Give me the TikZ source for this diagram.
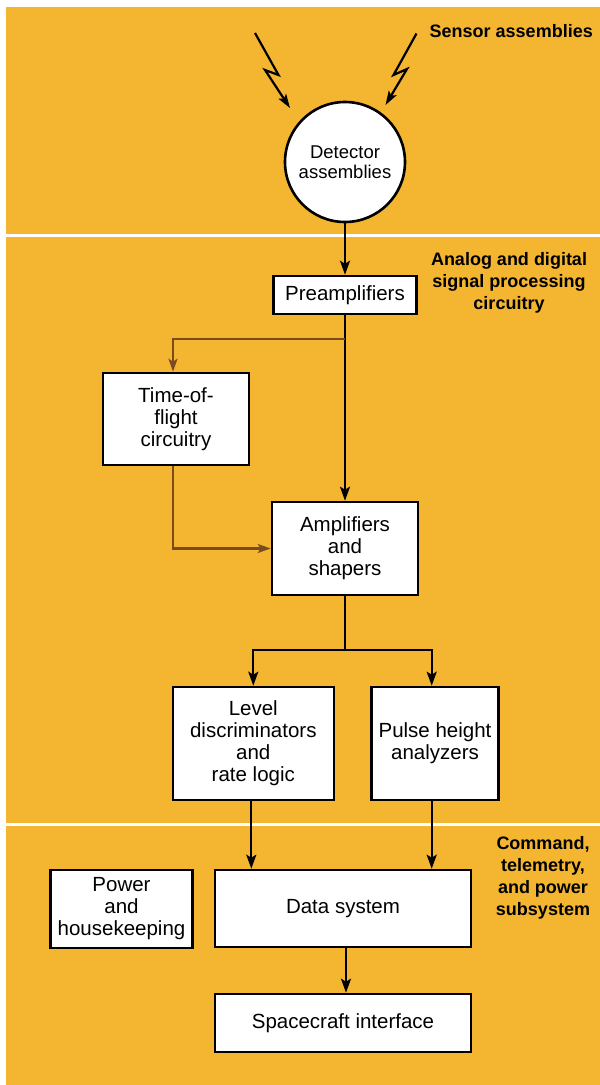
\documentclass[tikz,border=0pt]{standalone}
\usepackage{fontspec}
\setmainfont{Liberation Sans}
\usetikzlibrary{arrows.meta}
\definecolor{bgorange}{HTML}{F4B530}
\definecolor{tofbrown}{HTML}{7A4B22}
\begin{document}
\begin{tikzpicture}[x=1pt,y=-1pt,
  box/.style={draw=black,line width=2.6pt,fill=white,inner sep=0pt,align=center,
    font=\fontsize{20.5}{22}\selectfont},
  disc/.style={circle,draw=black,line width=2.6pt,fill=white,inner sep=0pt,
    minimum size=120pt,align=center,font=\fontsize{18.5}{20}\selectfont},
  lbl/.style={inner sep=0pt,align=center,font=\fontsize{18}{22}\selectfont\bfseries},
  arr/.style={draw=black,line width=2.2pt,-{Stealth[length=14pt,width=10pt,inset=3pt]}},
  link/.style={draw=black,line width=2.2pt},
  tofarr/.style={draw=tofbrown,line width=2.2pt,-{Stealth[length=13pt,width=9pt,inset=3pt]}},
  bolt/.style={draw=black,line width=2.2pt,line join=miter,-{Stealth[length=14pt,width=9pt,inset=3pt]}}]
\useasboundingbox (0,0) rectangle (600,1085);
% background
\fill[white] (0,0) rectangle (600,1085);
\fill[bgorange] (6,7) rectangle (600,1085);
\fill[white] (6,234.3) rectangle (600,237.3);
\fill[white] (6,822.5) rectangle (600,825.5);

% nodes
\node[disc] (det) at (345,162) {Detector\\assemblies};
\node[box,minimum width=143pt,minimum height=38pt] (pre) at (345,295) {Preamplifiers};
\node[box,minimum width=146pt,minimum height=92pt] (tof) at (176,419) {Time-of-\\flight\\circuitry};
\node[box,minimum width=146pt,minimum height=93pt] (amp) at (345,548.5) {Amplifiers\\and\\shapers};
\node[box,minimum width=161pt,minimum height=113pt] (lvl) at (253.3,743.5) {Level\\discriminators\\and\\rate logic};
\node[box,minimum width=126.6pt,minimum height=113pt] (pha) at (435,743.5) {Pulse height\\analyzers};
\node[box,minimum width=142pt,minimum height=78pt] (pwr) at (121.5,909) {Power\\and\\housekeeping};
\node[box,minimum width=256pt,minimum height=77pt] (dat) at (343,908.5) {Data system};
\node[box,minimum width=256pt,minimum height=58pt] (sci) at (343,1023) {Spacecraft interface};

% labels
\node[lbl,anchor=east] (lsens) at (593,31) {Sensor assemblies};
\node[lbl] (lanal) at (509,283) {Analog and digital\\signal processing\\circuitry};
\node[lbl] (lcmd) at (543,877.5) {Command,\\telemetry,\\and power\\subsystem};

% lightning bolts
\coordinate (b1s) at (255,33);
\coordinate (b1e) at (290,108);
\coordinate (b2s) at (416.5,33.5);
\coordinate (b2e) at (385.5,105);
\draw[bolt] (b1s) -- (278.5,75) -- (265,70) -- (b1e);
\draw[bolt] (b2s) -- (393.5,75) -- (407,69) -- (b2e);

% connectors
\coordinate (tap) at (345,339);
\coordinate (split) at (345,650);
\draw[arr] (det.south) -- (pre.north);
\draw[arr] (pre.south) -- (amp.north);
\draw[tofarr] (tap) -| ([xshift=-3pt]tof.north);
\draw[tofarr] ([xshift=-3pt]tof.south) |- (amp.west);
\draw[link] (amp.south) -- (split);
\draw[arr] (split) -| (lvl.north);
\draw[arr] (split) -| ([xshift=-3.3pt]pha.north);
\draw[arr] ([xshift=-2pt]lvl.south) -- ([xshift=-2pt]lvl.south |- dat.north);
\draw[arr] ([xshift=-3.3pt]pha.south) -- ([xshift=-3.3pt]pha.south |- dat.north);
\draw[arr] ([xshift=3pt]dat.south) -- ([xshift=3pt]sci.north);
\end{tikzpicture}
\end{document}
